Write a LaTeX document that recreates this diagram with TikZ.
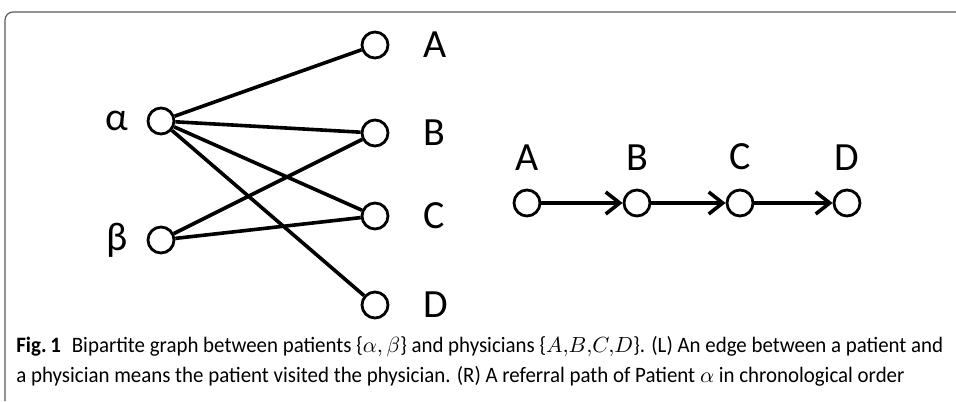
\documentclass[tikz,border=0pt]{standalone}
\usepackage{fontspec}
\setmainfont{Carlito}
\newfontfamily\capfont[FakeStretch=0.95]{Carlito}
\usetikzlibrary{arrows.meta,positioning}
\tikzset{
  vert/.style={circle,draw,line width=1.4pt,minimum size=13pt,inner sep=0pt},
  lab/.style={inner sep=0pt,font=\fontsize{20}{20}\selectfont},
  link/.style={line width=1.8pt},
  refer/.style={line width=1.8pt,-{Straight Barb[length=7pt,width=11pt,line width=1.8pt]}},
  captext/.style={anchor=base west,inner sep=0pt,font=\capfont\fontsize{11}{12}\selectfont}
}
\begin{document}
\begin{tikzpicture}[x=0.5pt,y=-0.5pt]
                \useasboundingbox (0,0) rectangle (956,401);
                \draw[black!65,line width=0.6pt,rounded corners=4pt] (5,401) -- (5,12) -- (960,12); % frame

                % left: bipartite graph
                \node[vert] (pa) at (161,121) {};
                \node[vert] (pb) at (161,240) {};
                \node[vert] (da) at (375,45) {};
                \node[vert] (db) at (375,133) {};
                \node[vert] (dc) at (375,216) {};
                \node[vert] (dd) at (375,305) {};
                \node[lab,left=9pt of pa] (lpa) {α};
                \node[lab,left=9pt of pb] (lpb) {β};
                \foreach \n/\t in {da/A,db/B,dc/C,dd/D}
                \node[lab,right=17pt of \n] (l\n) {\t};
                \foreach \d in {da,db,dc,dd} % patient alpha
                \draw[link] (pa) -- (\d);
                \foreach \d in {db,dc} % patient beta
                \draw[link] (pb) -- (\d);

                % right: referral path
                \node[vert] (ra) at (527,203) {};
                \node[vert] (rb) at (637,203) {};
                \node[vert] (rc) at (740,203) {};
                \node[vert] (rd) at (847,203) {};
                \foreach \n/\t in {ra/A,rb/B,rc/C,rd/D}
                \node[lab,above=9pt of \n] (l\n) {\t};
                \draw[refer] (ra) -- (rb);
                \draw[refer] (rb) -- (rc);
                \draw[refer] (rc) -- (rd);

                % caption
                \node[captext] (cap1) at (16,352) {\textbf{Fig.\,1}\hspace{0.5em}Bipartite graph between patients \{$\alpha,\beta$\} and physicians \{$A,\!B,\!C,\!D$\}. (L) An edge between a patient and};
                \node[captext] (cap2) at (16,382) {a physician means the patient visited the physician. (R) A referral path of Patient $\alpha$ in chronological order};
\end{tikzpicture}
\end{document}
